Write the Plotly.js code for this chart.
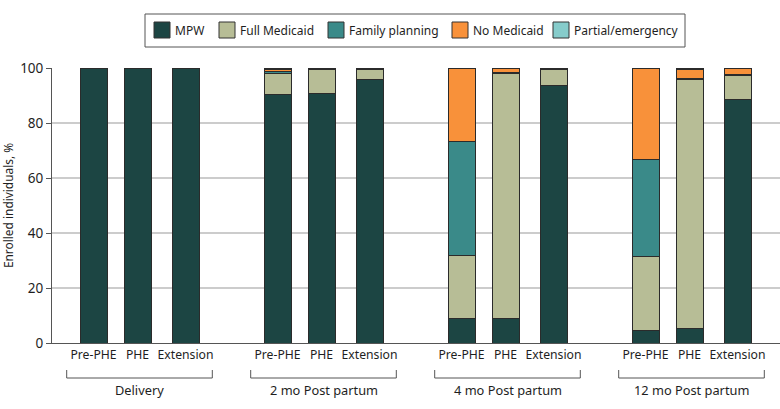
<!DOCTYPE html>
<html>
<head>
<meta charset="utf-8">
<script src="https://cdn.plot.ly/plotly-3.0.1.min.js"></script>
<style>html,body{margin:0;padding:0;background:#fff;}#chart{width:780px;height:409px;}</style>
</head>
<body>
<div id="chart"></div>
<script>
// ---- data ----
const groups = ["Delivery", "2 mo Post partum", "4 mo Post partum", "12 mo Post partum"];
const periods = ["Pre-PHE", "PHE", "Extension"];
const seriesNames = ["MPW", "Full Medicaid", "Family planning", "No Medicaid", "Partial/emergency"];
const colors = ["#1c4543", "#b7bd96", "#3a8a89", "#f8913a", "#86cccb"];
// values listed group by group: [Pre-PHE, PHE, Extension]
const mpw          = [100, 100, 100,   90.4, 90.8, 96.0,   9.0, 9.0, 93.8,    4.6, 5.3, 88.7];
const fullMedicaid = [0, 0, 0,         7.6, 8.7, 3.5,     23.0, 89.0, 5.5,   26.8, 90.7, 8.5];
const familyPlan   = [0, 0, 0,         0.6, 0.3, 0.1,     41.2, 0.5, 0.4,    35.4, 0.3, 0.3];
const noMedicaid   = [0, 0, 0,         1.0, 0.1, 0.3,     26.5, 1.2, 0.2,    33.0, 3.2, 2.4];
const partialEmerg = [0, 0, 0,         0.3, 0.1, 0.1,     0.3, 0.2, 0.1,     0.2, 0.2, 0.1];
const yTicks = [0, 20, 40, 60, 80, 100];

// ---- placement of categories on a numeric axis ----
const groupStep = 184, inGroup = [0, 44, 92], firstCenter = 41.5, barW = 27;
const xs = [], xLabels = [];
groups.forEach((g, gi) => periods.forEach((p, pi) => { xs.push(firstCenter + gi * groupStep + inGroup[pi]); xLabels.push(p); }));

const allSeries = [mpw, fullMedicaid, familyPlan, noMedicaid, partialEmerg];
const traces = allSeries.map((vals, i) => ({
  type: "bar", name: seriesNames[i], x: xs, y: vals, width: barW,
  marker: {color: colors[i], line: {color: "#2b2b2b", width: 1}},
  cliponaxis: false, hoverinfo: "skip", showlegend: false
}));

const FONT = "'Noto Sans', 'DejaVu Sans Condensed', sans-serif";
const TXT = "#1e1e1e";
const L = 52, T = 68, W = 728, H = 275;
const px = v => (v - L) / W, py = v => (T + H - v) / H;

const shapes = [], annotations = [];
// group brackets
groups.forEach((g, gi) => {
  const x0 = xs[gi * 3] - 26.8, x1 = xs[gi * 3 + 2] + 26.8;
  const yTop = py(370), yBot = py(378);
  const line = {color: "#555", width: 1};
  shapes.push({type: "line", xref: "x", yref: "paper", x0: x0, x1: x0, y0: yTop, y1: yBot, line});
  shapes.push({type: "line", xref: "x", yref: "paper", x0: x1, x1: x1, y0: yTop, y1: yBot, line});
  shapes.push({type: "line", xref: "x", yref: "paper", x0: x0, x1: x1, y0: yBot, y1: yBot, line});
  annotations.push({xref: "x", yref: "paper", x: (x0 + x1) / 2, y: py(390), yanchor: "middle", xanchor: "center",
    text: g, showarrow: false, font: {family: FONT, size: 12.8, color: TXT}});
});
// legend (boxed, horizontal)
shapes.push({type: "rect", xref: "paper", yref: "paper", x0: px(145), x1: px(685), y0: py(14), y1: py(47),
  line: {color: "#555", width: 1}, fillcolor: "#fff", layer: "above"});
const swatchLeft = [154, 219, 328, 452, 553];
seriesNames.forEach((n, i) => {
  shapes.push({type: "rect", xref: "paper", yref: "paper", x0: px(swatchLeft[i]), x1: px(swatchLeft[i] + 16),
    y0: py(22), y1: py(38), fillcolor: colors[i], line: {color: "#333", width: 1}, layer: "above"});
  annotations.push({xref: "paper", yref: "paper", x: px(swatchLeft[i] + 19), y: py(30.5), xanchor: "left", yanchor: "middle",
    text: n, showarrow: false, font: {family: FONT, size: 12, color: TXT}});
});

const layout = {
  width: 780, height: 409,
  margin: {l: L, r: 780 - L - W, t: T, b: 409 - T - H},
  paper_bgcolor: "#fff", plot_bgcolor: "#fff",
  barmode: "stack",
  font: {family: FONT, size: 12, color: TXT},
  showlegend: false,
  xaxis: {range: [0, W], tickvals: xs, ticktext: xLabels, showgrid: false, zeroline: false,
    showline: true, linecolor: "#555", linewidth: 1, ticks: "", fixedrange: true,
    tickfont: {family: FONT, size: 12.2, color: TXT}},
  yaxis: {range: [0, 100], tickvals: yTicks, showgrid: true, gridcolor: "#cccccc", gridwidth: 1.5,
    zeroline: false, showline: true, linecolor: "#555", linewidth: 1, ticks: "outside", ticklen: 5,
    tickcolor: "#555", fixedrange: true, tickfont: {family: FONT, size: 13.5, color: TXT},
    title: {text: "Enrolled individuals, %", font: {family: FONT, size: 11.9, color: TXT}, standoff: 9}},
  shapes: shapes, annotations: annotations
};

Plotly.newPlot("chart", traces, layout, {displayModeBar: false, staticPlot: true});
</script>
</body>
</html>
